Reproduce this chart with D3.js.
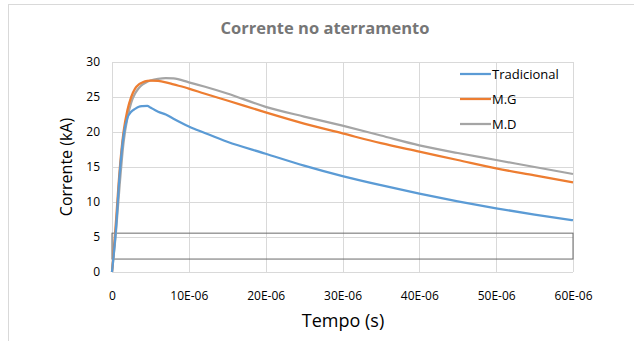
<!DOCTYPE html>
<html lang="pt">
<head>
  <meta charset="UTF-8">
  <title>Corrente no aterramento</title>
  <script src="https://d3js.org/d3.v7.min.js"></script>
  <style>
    body { margin: 0; background: #fff; }
    text { font-family: "Open Sans", sans-serif; }
  </style>
</head>
<body>
<div id="chart"></div>
<script>
// tempo em microssegundos, corrente em kA
var tempo = [0, 0.5, 1, 1.5, 2, 2.5, 3, 3.5, 4, 4.6, 5, 6, 7, 8, 10, 12, 15, 20, 25, 30, 35, 40, 45, 50, 55, 60];
var tradicional = [0, 6, 14, 19.5, 22, 22.9, 23.3, 23.6, 23.7, 23.75, 23.5, 22.9, 22.5, 21.9, 20.8, 19.9, 18.6, 16.9, 15.2, 13.7, 12.4, 11.2, 10.1, 9.1, 8.2, 7.4];
var mg = [0, 7, 14.6, 20, 23.1, 25, 26.2, 26.8, 27.1, 27.3, 27.35, 27.3, 27.1, 26.8, 26.2, 25.5, 24.5, 22.8, 21.2, 19.8, 18.4, 17.2, 16, 14.8, 13.8, 12.8];
var md = [0, 5.5, 12.5, 18.5, 22, 24.2, 25.5, 26.3, 26.8, 27.2, 27.35, 27.6, 27.7, 27.65, 27.1, 26.5, 25.5, 23.6, 22.2, 20.9, 19.5, 18.1, 17, 16, 15, 14.0];
var seriesNames = ["Tradicional", "M.G", "M.D"];
var xTicks = [0, 10, 20, 30, 40, 50, 60];
var xTickLabels = ["0", "10E-06", "20E-06", "30E-06", "40E-06", "50E-06", "60E-06"];
var yTicks = [0, 5, 10, 15, 20, 25, 30];
// caixa desenhada sobre o grafico: [t0, t1, i0, i1]
var caixa = [0, 60, 1.85, 5.55];

var colors = ["#5B9BD5", "#ED7D31", "#A5A5A5"];
var seriesData = [tradicional, mg, md];

var W = 634, H = 341;
var margin = {top: 62, right: 61, bottom: 69, left: 112};
var width = W - margin.left - margin.right,
    height = H - margin.top - margin.bottom;

var svg = d3.select("#chart").append("svg")
  .attr("width", W).attr("height", H);

// moldura externa
svg.append("rect")
  .attr("x", 8.5).attr("y", 4.5)
  .attr("width", 700).attr("height", 400)
  .attr("fill", "#fff").attr("stroke", "#D9D9D9");

svg.append("text")
  .attr("x", 325).attr("y", 34)
  .attr("text-anchor", "middle")
  .attr("font-size", 16.5).attr("font-weight", "bold")
  .attr("fill", "#767676")
  .text("Corrente no aterramento");

var g = svg.append("g")
  .attr("transform", "translate(" + margin.left + "," + margin.top + ")");

var x = d3.scaleLinear().domain([0, 60]).range([0, width]);
var y = d3.scaleLinear().domain([0, 30]).range([height, 0]);

// grade
g.append("g").selectAll("line").data(yTicks).enter().append("line")
  .attr("x1", 0).attr("x2", width)
  .attr("y1", function(d) { return Math.round(y(d)) + 0.5; })
  .attr("y2", function(d) { return Math.round(y(d)) + 0.5; })
  .attr("stroke", "#D9D9D9");
g.append("g").selectAll("line").data(xTicks).enter().append("line")
  .attr("y1", 0).attr("y2", height)
  .attr("x1", function(d) { return Math.round(x(d)) + 0.5; })
  .attr("x2", function(d) { return Math.round(x(d)) + 0.5; })
  .attr("stroke", "#D9D9D9");

// eixos (so os rotulos)
var xAxis = g.append("g")
  .attr("transform", "translate(0," + height + ")")
  .call(d3.axisBottom(x).tickValues(xTicks).tickSize(0).tickPadding(19)
    .tickFormat(function(d, i) { return xTickLabels[i]; }));
var yAxis = g.append("g")
  .call(d3.axisLeft(y).tickValues(yTicks).tickSize(0).tickPadding(12));
[xAxis, yAxis].forEach(function(a) {
  a.select(".domain").remove();
  a.selectAll("text").attr("font-size", 12).attr("fill", "#000")
    .attr("font-family", "'Open Sans', sans-serif");
});

// caixa
g.append("rect")
  .attr("x", x(caixa[0])).attr("y", y(caixa[3]))
  .attr("width", x(caixa[1]) - x(caixa[0]))
  .attr("height", y(caixa[2]) - y(caixa[3]))
  .attr("fill", "none").attr("stroke", "#6b6b6b").attr("stroke-width", 1);

// linhas
var line = d3.line()
  .x(function(d, i) { return x(tempo[i]); })
  .y(function(d) { return y(d); })
  .curve(d3.curveMonotoneX);

seriesData.slice().reverse().forEach(function(s, k) {
  var idx = seriesData.length - 1 - k;
  g.append("path").datum(s)
    .attr("d", line)
    .attr("fill", "none")
    .attr("stroke", colors[idx])
    .attr("stroke-width", 2.25)
    .attr("stroke-linejoin", "round");
});

// legenda
var leg = svg.append("g").attr("transform", "translate(460,74)");
seriesNames.forEach(function(name, i) {
  leg.append("line")
    .attr("x1", 0).attr("x2", 31)
    .attr("y1", i * 25).attr("y2", i * 25)
    .attr("stroke", colors[i]).attr("stroke-width", 2.25);
  leg.append("text")
    .attr("x", 32).attr("y", i * 25 + 5)
    .attr("font-size", 13).attr("fill", "#000")
    .text(name);
});

// titulos dos eixos
svg.append("text")
  .attr("transform", "translate(72," + (margin.top + height / 2) + ") rotate(-90)")
  .attr("text-anchor", "middle")
  .attr("font-size", 16).attr("fill", "#000")
  .text("Corrente (kA)");
svg.append("text")
  .attr("x", 343).attr("y", 327)
  .attr("text-anchor", "middle")
  .attr("font-size", 18).attr("fill", "#000")
  .text("Tempo (s)");
</script>
</body>
</html>
